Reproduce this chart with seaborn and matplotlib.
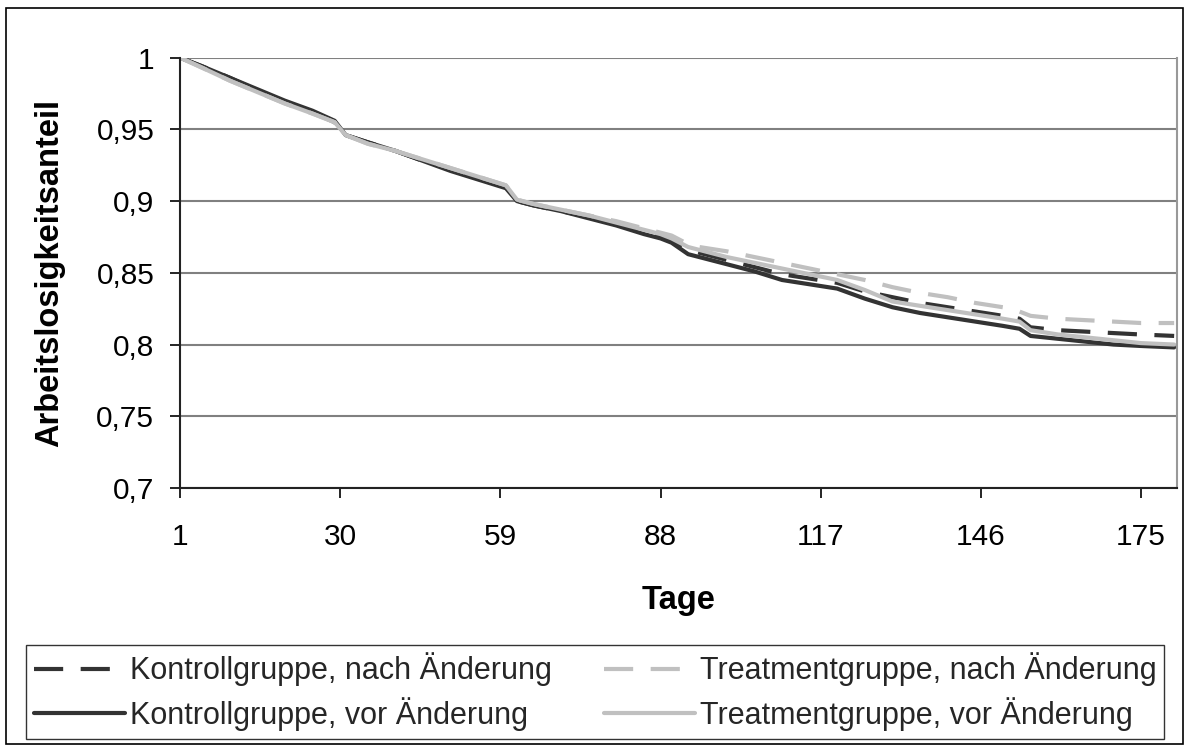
import numpy as np
import pandas as pd
import matplotlib
matplotlib.use("Agg")
import matplotlib.pyplot as plt
import seaborn as sns
from matplotlib.patches import Rectangle

tage = [1, 5, 10, 15, 20, 25, 29, 31, 35, 40, 45, 50, 55, 60, 62, 65, 70, 75, 80,
        85, 88, 90, 93, 95, 100, 105, 110, 115, 120, 125, 130, 135, 140, 145, 150,
        153, 155, 160, 165, 170, 175, 181]

kontroll_nach = [1.000, 0.994, 0.986, 0.977, 0.969, 0.962, 0.955, 0.946, 0.941, 0.935,
                 0.928, 0.922, 0.916, 0.910, 0.900, 0.897, 0.893, 0.889, 0.884, 0.878,
                 0.875, 0.872, 0.866, 0.864, 0.859, 0.854, 0.849, 0.846, 0.843, 0.837,
                 0.833, 0.829, 0.826, 0.823, 0.820, 0.818, 0.812, 0.810, 0.809, 0.808,
                 0.807, 0.806]
treatment_nach = [1.000, 0.993, 0.984, 0.976, 0.968, 0.961, 0.955, 0.946, 0.940, 0.935,
                  0.929, 0.923, 0.917, 0.911, 0.901, 0.898, 0.894, 0.890, 0.886, 0.881,
                  0.878, 0.876, 0.870, 0.868, 0.865, 0.861, 0.857, 0.853, 0.849, 0.845,
                  0.840, 0.836, 0.833, 0.829, 0.826, 0.823, 0.820, 0.818, 0.817, 0.816,
                  0.815, 0.815]
kontroll_vor = [1.000, 0.994, 0.986, 0.978, 0.970, 0.963, 0.956, 0.946, 0.941, 0.935,
                0.928, 0.921, 0.915, 0.909, 0.900, 0.897, 0.893, 0.888, 0.883, 0.877,
                0.874, 0.871, 0.863, 0.861, 0.856, 0.851, 0.845, 0.842, 0.839, 0.832,
                0.826, 0.822, 0.819, 0.816, 0.813, 0.811, 0.806, 0.804, 0.802, 0.800,
                0.799, 0.798]
treatment_vor = [1.000, 0.993, 0.984, 0.976, 0.968, 0.961, 0.955, 0.946, 0.940, 0.935,
                 0.929, 0.923, 0.917, 0.911, 0.901, 0.898, 0.894, 0.890, 0.885, 0.880,
                 0.877, 0.874, 0.868, 0.866, 0.861, 0.857, 0.853, 0.849, 0.845, 0.838,
                 0.830, 0.827, 0.824, 0.821, 0.818, 0.816, 0.810, 0.807, 0.805, 0.803,
                 0.801, 0.800]

gruppen = ["Kontrollgruppe, nach Änderung", "Kontrollgruppe, vor Änderung",
           "Treatmentgruppe, nach Änderung", "Treatmentgruppe, vor Änderung"]
x_ticks = [1, 30, 59, 88, 117, 146, 175]
y_ticks = [0.7, 0.75, 0.8, 0.85, 0.9, 0.95, 1.0]
y_labels = ["0,7", "0,75", "0,8", "0,85", "0,9", "0,95", "1"]

df = pd.concat([
    pd.DataFrame({"Tage": tage, "Anteil": kontroll_nach, "Gruppe": gruppen[0]}),
    pd.DataFrame({"Tage": tage, "Anteil": kontroll_vor, "Gruppe": gruppen[1]}),
    pd.DataFrame({"Tage": tage, "Anteil": treatment_nach, "Gruppe": gruppen[2]}),
    pd.DataFrame({"Tage": tage, "Anteil": treatment_vor, "Gruppe": gruppen[3]}),
])

sns.set_theme(style="white")
plt.rcParams["font.family"] = ["Liberation Sans", "DejaVu Sans"]

dunkel = "#333333"
hell = "#c0c0c0"
palette = {gruppen[0]: dunkel, gruppen[1]: dunkel, gruppen[2]: hell, gruppen[3]: hell}
dashes = {gruppen[0]: (7, 4.2), gruppen[1]: "", gruppen[2]: (7, 4.2), gruppen[3]: ""}

fig = plt.figure(figsize=(11.9, 7.49), dpi=100)
ax = fig.add_axes([0.1513, 0.3485, 0.8377, 0.5745])

sns.lineplot(data=df, x="Tage", y="Anteil", hue="Gruppe", style="Gruppe",
             palette=palette, dashes=dashes, linewidth=3.0, ax=ax,
             hue_order=gruppen, style_order=gruppen, legend=True)

handles, labels = ax.get_legend_handles_labels()
ax.get_legend().remove()

ax.set_xlim(1, 181.5)
ax.set_ylim(0.7, 1.0)
ax.set_xticks(x_ticks)
ax.set_yticks(y_ticks)
ax.set_yticklabels(y_labels)
ax.tick_params(axis="both", labelsize=21.5, direction="out", length=7.5,
               width=1.2, color="black", labelcolor="black", left=True, bottom=True)
ax.tick_params(axis="y", pad=11)
ax.tick_params(axis="x", pad=18)
ax.yaxis.grid(True, color="#808080", linewidth=1.5)
ax.set_axisbelow(True)
for s in ["left", "bottom"]:
    ax.spines[s].set_color("#222222")
    ax.spines[s].set_linewidth(1.5)
ax.spines["top"].set_visible(False)
ax.spines["right"].set_color("#999999")
ax.spines["right"].set_linewidth(1.5)

ax.set_xlabel("Tage", fontsize=23.5, fontweight="bold", color="black")
ax.set_ylabel("Arbeitslosigkeitsanteil", fontsize=23.5, fontweight="bold", color="black")
ax.xaxis.set_label_coords(0.5, -0.225)
ax.yaxis.set_label_coords(-0.115, 0.5)

leg = fig.legend(handles, labels, ncol=2, loc="upper left",
                 bbox_to_anchor=(26 / 1190, 1 - 645 / 749),
                 fontsize=22, frameon=True, fancybox=False,
                 handlelength=3.0, handletextpad=0.15, columnspacing=1.7,
                 borderaxespad=0, labelspacing=0.35, borderpad=0.25)
leg.get_frame().set_edgecolor("black")
leg.get_frame().set_linewidth(1.0)

fig.patches.append(Rectangle((6 / 1190, 1 - 744 / 749), 1177 / 1190, 736 / 749,
                             transform=fig.transFigure, fill=False,
                             edgecolor="black", linewidth=1.2))

fig.savefig("out.png", dpi=100)
